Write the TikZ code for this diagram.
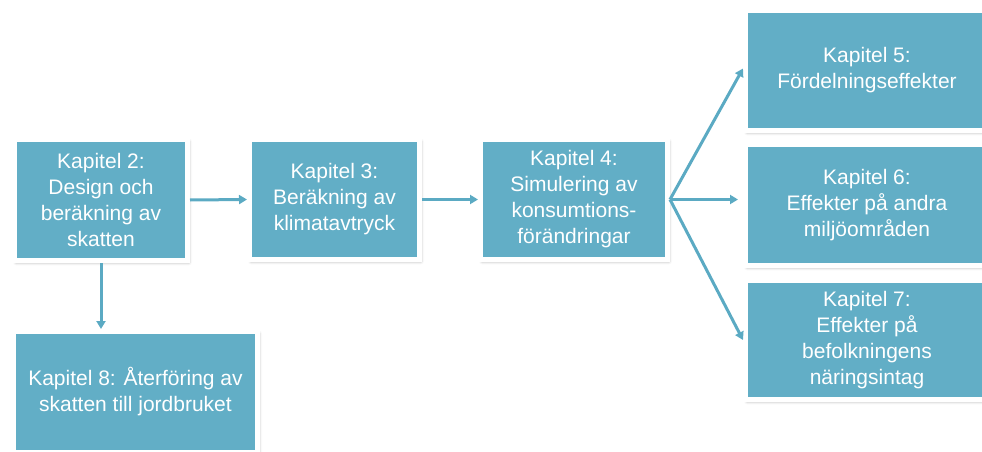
\documentclass[tikz,border=0pt]{standalone}
\usepackage{fontspec}
\setmainfont{Liberation Sans}
\usetikzlibrary{arrows.meta,shadows.blur}
\definecolor{teal1}{HTML}{62AEC6}
\definecolor{teal2}{HTML}{5BAAC3}
\tikzset{
  chapbox/.style={fill=teal1, draw=white, line width=5pt, text=white,
    align=center, inner sep=0pt,
    font=\fontsize{21pt}{26pt}\selectfont,
    blur shadow={shadow xshift=1.5pt, shadow yshift=-2pt, shadow blur steps=6, shadow opacity=35, shadow blur radius=3pt}},
  flow/.style={draw=teal2, line width=3pt, -{Triangle[length=8pt,width=9pt]}}
}
\begin{document}
\begin{tikzpicture}[x=1pt,y=-1pt]
\useasboundingbox (0,0) rectangle (982,452);
\node[chapbox, minimum width=173pt, minimum height=121pt] (b2) at (101,200) {Kapitel 2:\\Design och\\beräkning av\\skatten};
\node[chapbox, minimum width=170pt, minimum height=120pt] (b3) at (334.5,199.5) {Kapitel 3:\\Beräkning av\\klimatavtryck};
\node[chapbox, minimum width=187pt, minimum height=120pt] (b4) at (574,199.5) {Kapitel 4:\\Simulering av\\konsumtions-\\förändringar};
\node[chapbox, minimum width=243pt, minimum height=120pt] (b5) at (867,70.5) {Kapitel 5:\\Fördelningseffekter};
\node[chapbox, minimum width=243pt, minimum height=121pt] (b6) at (867,205) {Kapitel 6:\\Effekter på andra\\miljöområden};
\node[chapbox, minimum width=243pt, minimum height=119pt] (b7) at (867,340) {Kapitel 7:\\Effekter på\\befolkningens\\näringsintag};
\node[chapbox, minimum width=244pt, minimum height=121pt] (b8) at (135.5,392) {Kapitel 8: Återföring av\\skatten till jordbruket};
\draw[flow] (b2.east) -- (b3.west);
\draw[flow] (b3.east) -- (b4.west);
\draw[flow] (b4.east) -- ([yshift=2pt]b5.west);
\draw[flow, shorten >=5pt] (b4.east) -- (b4.east -| b6.west);
\draw[flow] (b4.east) -- (b7.west);
\draw[flow] (b2.south) -- (b2.south |- b8.north);
\end{tikzpicture}
\end{document}
